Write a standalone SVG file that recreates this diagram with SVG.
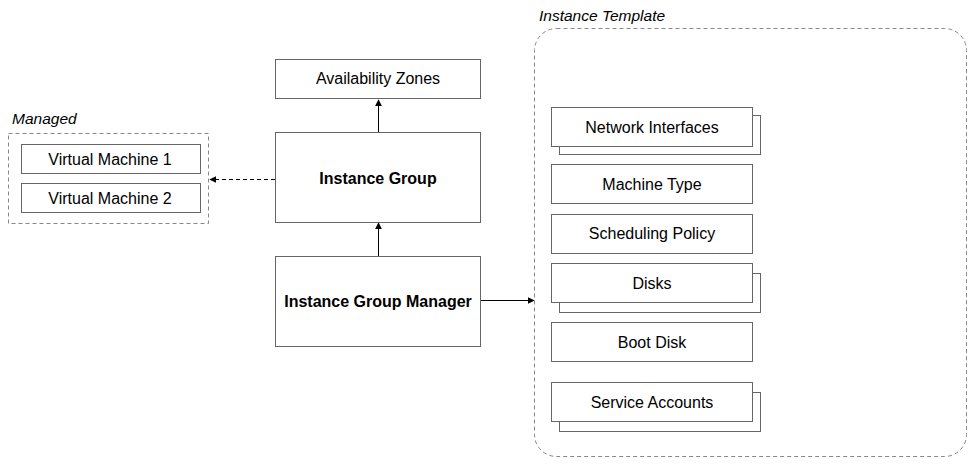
<svg xmlns="http://www.w3.org/2000/svg" width="976" height="464" viewBox="0 0 976 464">
<defs>
<marker id="ah" viewBox="0 0 10 10" refX="9" refY="5" markerWidth="7" markerHeight="7" markerUnits="userSpaceOnUse" orient="auto">
<path d="M0,0 L10,5 L0,10 z" fill="#000"/>
</marker>
<style>
.box{fill:#fff;stroke:#666;stroke-width:1}
.dash{fill:none;stroke:#888;stroke-width:1;stroke-dasharray:4 3}
.t{font-family:"Liberation Sans",Arial,sans-serif;font-size:16px;fill:#000;text-anchor:middle}
.b{font-weight:bold}
.lab{font-family:"Liberation Sans",Arial,sans-serif;font-size:15.5px;font-style:italic;fill:#000}
.c{stroke:#000;stroke-width:1;fill:none}
</style>
</defs>
<rect width="976" height="464" fill="#fff"/>

<g id="managed">
<rect class="dash" x="8.5" y="133.5" width="200" height="90"/>
<text class="lab" x="12" y="124">Managed</text>
</g>
<g id="vm1">
<rect class="box" x="21.5" y="144.5" width="179" height="29"/>
<text class="t" x="110" y="165">Virtual Machine 1</text>
</g>
<g id="vm2">
<rect class="box" x="21.5" y="183.5" width="179" height="29"/>
<text class="t" x="110" y="204">Virtual Machine 2</text>
</g>

<g id="az">
<rect class="box" x="275.5" y="59.5" width="205" height="39"/>
<text class="t" x="378" y="84">Availability Zones</text>
</g>
<g id="ig">
<rect class="box" x="275.5" y="132.5" width="205" height="90"/>
<text class="t b" x="378" y="184">Instance Group</text>
</g>
<g id="igm">
<rect class="box" x="275.5" y="256.5" width="205" height="90"/>
<text class="t b" x="378" y="307">Instance Group Manager</text>
</g>

<g id="template">
<rect class="dash" x="534.5" y="28.5" width="432" height="428" rx="22" ry="22"/>
<text class="lab" x="539" y="21">Instance Template</text>
</g>
<g id="netif">
<rect class="box" x="559.5" y="115.5" width="201" height="39"/>
<rect class="box" x="551.5" y="107.5" width="201" height="39"/>
<text class="t" x="652" y="133">Network Interfaces</text>
</g>
<g id="mtype">
<rect class="box" x="551.5" y="164.5" width="201" height="39"/>
<text class="t" x="652" y="190">Machine Type</text>
</g>
<g id="sched">
<rect class="box" x="551.5" y="214.5" width="201" height="39"/>
<text class="t" x="652" y="239">Scheduling Policy</text>
</g>
<g id="disks">
<rect class="box" x="559.5" y="273.5" width="201" height="39"/>
<rect class="box" x="551.5" y="263.5" width="201" height="39"/>
<text class="t" x="652" y="289">Disks</text>
</g>
<g id="boot">
<rect class="box" x="551.5" y="322.5" width="201" height="39"/>
<text class="t" x="652" y="348">Boot Disk</text>
</g>
<g id="sa">
<rect class="box" x="559.5" y="392.5" width="201" height="39"/>
<rect class="box" x="551.5" y="382.5" width="201" height="39"/>
<text class="t" x="652" y="408">Service Accounts</text>
</g>

<g id="connectors">
<line class="c" x1="378.5" y1="132" x2="378.5" y2="100" marker-end="url(#ah)"/>
<line class="c" x1="378.5" y1="256" x2="378.5" y2="223" marker-end="url(#ah)"/>
<line class="c" x1="481" y1="300.5" x2="534" y2="300.5" marker-end="url(#ah)"/>
<line class="c" x1="275" y1="179.5" x2="210" y2="179.5" stroke-dasharray="4 3" marker-end="url(#ah)"/>
</g>
</svg>
